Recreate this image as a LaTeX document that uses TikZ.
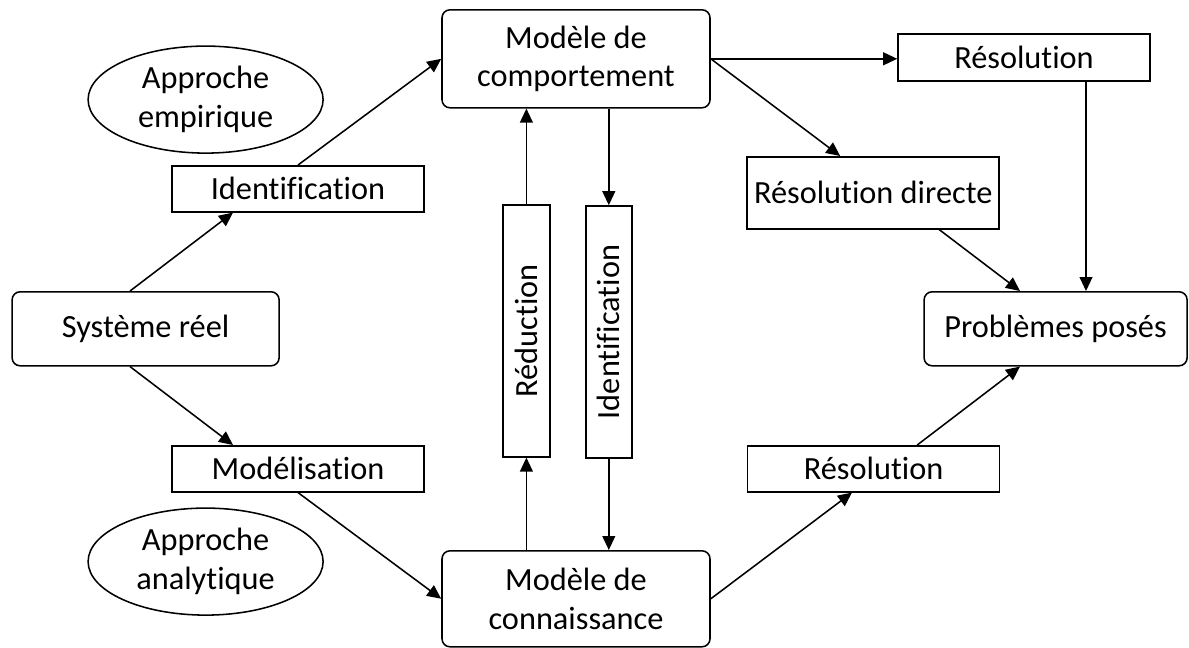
\documentclass[tikz,border=0pt]{standalone}
\usepackage{fontspec}
\setmainfont{Carlito}[Ligatures=NoCommon]
\usetikzlibrary{shapes.geometric,arrows.meta}

\begin{document}
\begin{tikzpicture}[font=\fontsize{23}{27.5}\selectfont,
  box/.style={draw,line width=1.1pt,minimum width=6.3cm,minimum height=1.15cm,inner sep=0pt},
  rbox/.style={box,rounded corners=0.2cm,align=center},
  oval/.style={ellipse,draw,line width=1.1pt,minimum width=5.875cm,minimum height=2.675cm,inner sep=0pt,align=center},
  vbox/.style={box,rotate=90,minimum height=1.175cm},
  arr/.style={line width=1.1pt,-{Triangle[length=0.35cm,width=0.32cm]}}]
\useasboundingbox (0,0) rectangle (29.725,-16.2);
\node[oval] (emp) at (5.14,-2.49) {Approche\\empirique};
\node[oval] (ana) at (5.14,-14.04) {Approche\\analytique};
\node[rbox,minimum width=6.675cm,minimum height=1.85cm] (sys) at (3.64,-8.22) {Système réel};
\node[box] (ident) at (7.45,-4.72) {Identification};
\node[box] (model) at (7.45,-11.72) {Modélisation};
\node[rbox,minimum width=6.7cm,minimum height=2.45cm] (comp) at (14.4,-1.47) {Modèle de\\comportement};
\node[rbox,minimum width=6.7cm,minimum height=2.4cm] (conn) at (14.4,-14.97) {Modèle de\\connaissance};
\node[vbox] (red) at (13.16,-8.27) {Réduction};
\node[vbox,minimum height=1.15cm] (idv) at (15.22,-8.3) {Identification};
\node[box,minimum height=1.175cm] (res1) at (25.6,-1.44) {Résolution};
\node[box,minimum height=1.8cm] (resd) at (21.83,-4.82) {Résolution directe};
\node[box] (res2) at (21.84,-11.72) {Résolution};
\node[rbox,minimum width=6.575cm,minimum height=1.85cm] (prob) at (26.39,-8.22) {Problèmes posés};
% approche empirique
\draw[arr] ([xshift=-0.39cm]sys.north) -- ([xshift=-1.625cm]ident.south);
\draw[arr] (ident.north) -- (comp.west);
% approche analytique
\draw[arr] ([xshift=-0.39cm]sys.south) -- ([xshift=-1.625cm]model.north);
\draw[arr] (model.south) -- (conn.west);
% entre les deux modeles
\draw[arr] (red |- conn.north) -- (red);
\draw[arr] (red) -- (red |- comp.south);
\draw[arr] (idv |- comp.south) -- (idv);
\draw[arr] (idv) -- (idv |- conn.north);
% resolution
\draw[arr] (comp.east) -- (comp.east -| res1.west);
\draw[arr] (comp.east) -- ([xshift=-0.825cm]resd.north);
\draw[arr] ([xshift=1.65cm]resd.south) -- ([xshift=-0.89cm]prob.north);
\draw[arr] ([xshift=1.55cm]res1.south) -- ([xshift=1.55cm]res1.south |- prob.north);
\draw[arr] (conn.east) -- ([xshift=-0.54cm]res2.south);
\draw[arr] ([xshift=1.09cm]res2.north) -- ([xshift=-0.89cm]prob.south);
\end{tikzpicture}
\end{document}
